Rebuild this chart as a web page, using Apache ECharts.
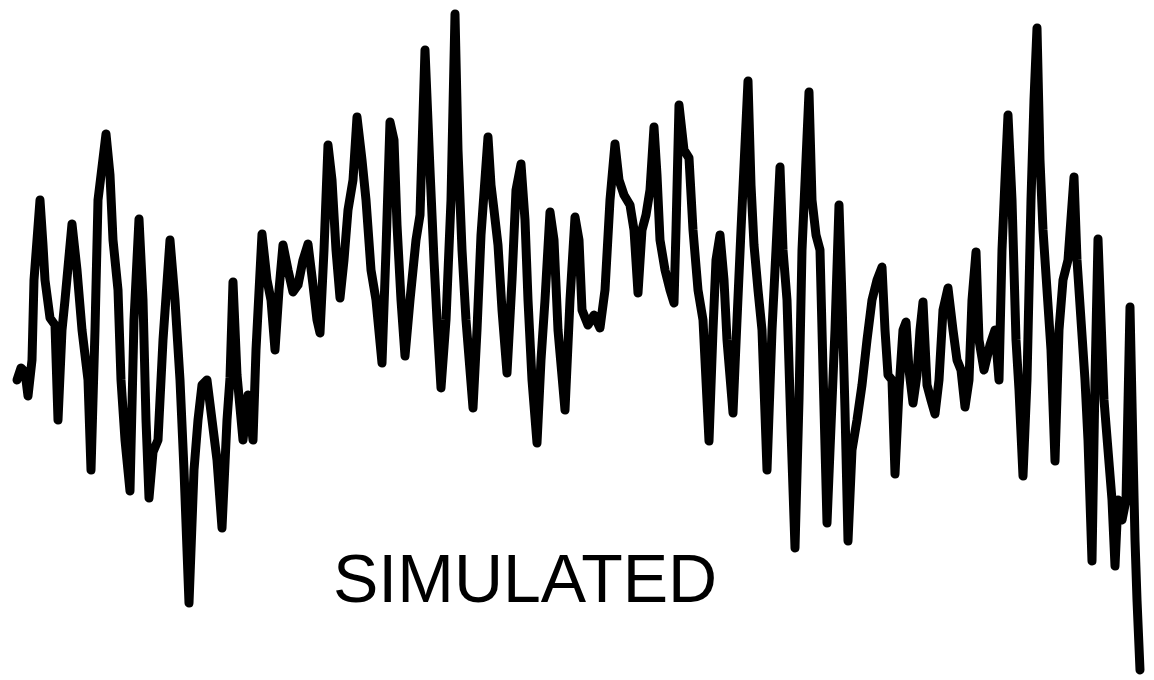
<!DOCTYPE html>
<html>
<head>
<meta charset="utf-8">
<script src="https://cdn.jsdelivr.net/npm/echarts@6/dist/echarts.min.js"></script>
<style>html,body{margin:0;padding:0;background:#fff;}#c{width:1154px;height:680px;}</style>
</head>
<body>
<div id="c"></div>
<script>
// Horizontal position of each sample (arbitrary units)
const timeSteps = [17,21,25,28,32,34,40,43,45,50,55,58,62,65,72,77,82,88,91,95,98,106,110,113,118,121,125,130,134,139,143,146,149,153,158,163,170,175,180,184,189,194,198,202,207,212,217,222,227,230,233,237,243,248,253,256,262,267,271,275,279,283,288,293,298,303,308,313,317,320,324,328,332,336,340,344,348,353,357,362,366,371,376,382,386,390,394,397,401,405,410,416,420,425,430,434,437,441,446,451,455,458,462,466,473,477,481,488,491,494,498,502,507,512,516,521,525,528,532,537,541,545,550,554,558,565,570,575,579,582,588,594,600,605,610,615,619,624,630,634,638,642,646,650,654,657,660,665,670,674,676,679,684,689,693,698,703,709,713,716,720,724,727,733,737,741,748,751,754,758,762,767,772,776,780,783,787,791,795,799,802,806,809,812,816,820,823,827,830,835,839,842,845,848,852,857,862,867,872,877,882,885,888,892,895,899,903,906,909,913,917,920,923,927,931,935,939,943,948,953,957,961,965,969,972,976,979,984,990,995,999,1002,1005,1008,1012,1016,1019,1023,1027,1031,1034,1037,1040,1043,1047,1051,1055,1059,1063,1068,1074,1077,1081,1085,1088,1092,1095,1098,1101,1104,1108,1112,1115,1118,1122,1126,1130,1133,1135,1137,1140];
// Signal depth (measured downward from the top of the picture)
const signal = [380,368,372,396,360,280,200,245,280,318,325,420,330,300,224,270,330,380,470,330,200,134,175,240,290,380,440,491,320,219,300,420,498,452,440,340,240,300,380,470,603,470,420,385,380,420,460,528,420,378,282,375,440,395,440,350,234,280,300,350,290,245,270,292,285,260,244,285,320,333,250,145,180,250,298,260,210,180,117,160,200,270,300,363,250,122,140,225,300,356,300,240,215,50,170,260,320,388,320,200,14,150,250,320,408,330,235,137,185,210,245,310,373,280,190,164,220,300,380,443,360,300,212,240,330,410,300,217,240,310,325,315,328,290,200,144,180,195,205,230,293,230,215,190,127,175,240,270,290,303,230,105,150,158,230,290,320,441,330,260,235,280,340,413,320,230,81,185,245,290,330,470,330,250,167,250,300,430,548,400,250,160,92,200,235,250,370,523,450,330,205,300,410,541,450,420,385,340,300,280,267,330,375,380,474,390,330,322,370,403,375,330,302,385,400,414,380,310,288,330,360,370,407,380,300,252,340,370,345,330,380,250,180,115,200,340,390,476,380,200,100,28,160,230,290,350,461,330,280,260,177,260,320,380,440,561,380,239,320,400,450,500,566,500,520,500,307,450,540,600,670];
const caption = "SIMULATED";

const chart = echarts.init(document.getElementById('c'), null, {renderer: 'canvas'});
chart.setOption({
  animation: false,
  backgroundColor: '#ffffff',
  grid: {left: 0, right: 0, top: 0, bottom: 0},
  xAxis: {type: 'value', min: 0, max: 1154, show: false},
  yAxis: {type: 'value', min: 0, max: 680, inverse: true, show: false},
  series: [{
    type: 'line',
    data: timeSteps.map((t, i) => [t, signal[i]]),
    showSymbol: false,
    lineStyle: {color: '#000000', width: 9, join: 'round', cap: 'round'}
  }],
  graphic: [{
    type: 'text',
    left: 333,
    top: 549,
    style: {
      text: caption,
      fill: '#000000',
      font: '68px "Liberation Sans", Arial, sans-serif'
    }
  }]
});
</script>
</body>
</html>
